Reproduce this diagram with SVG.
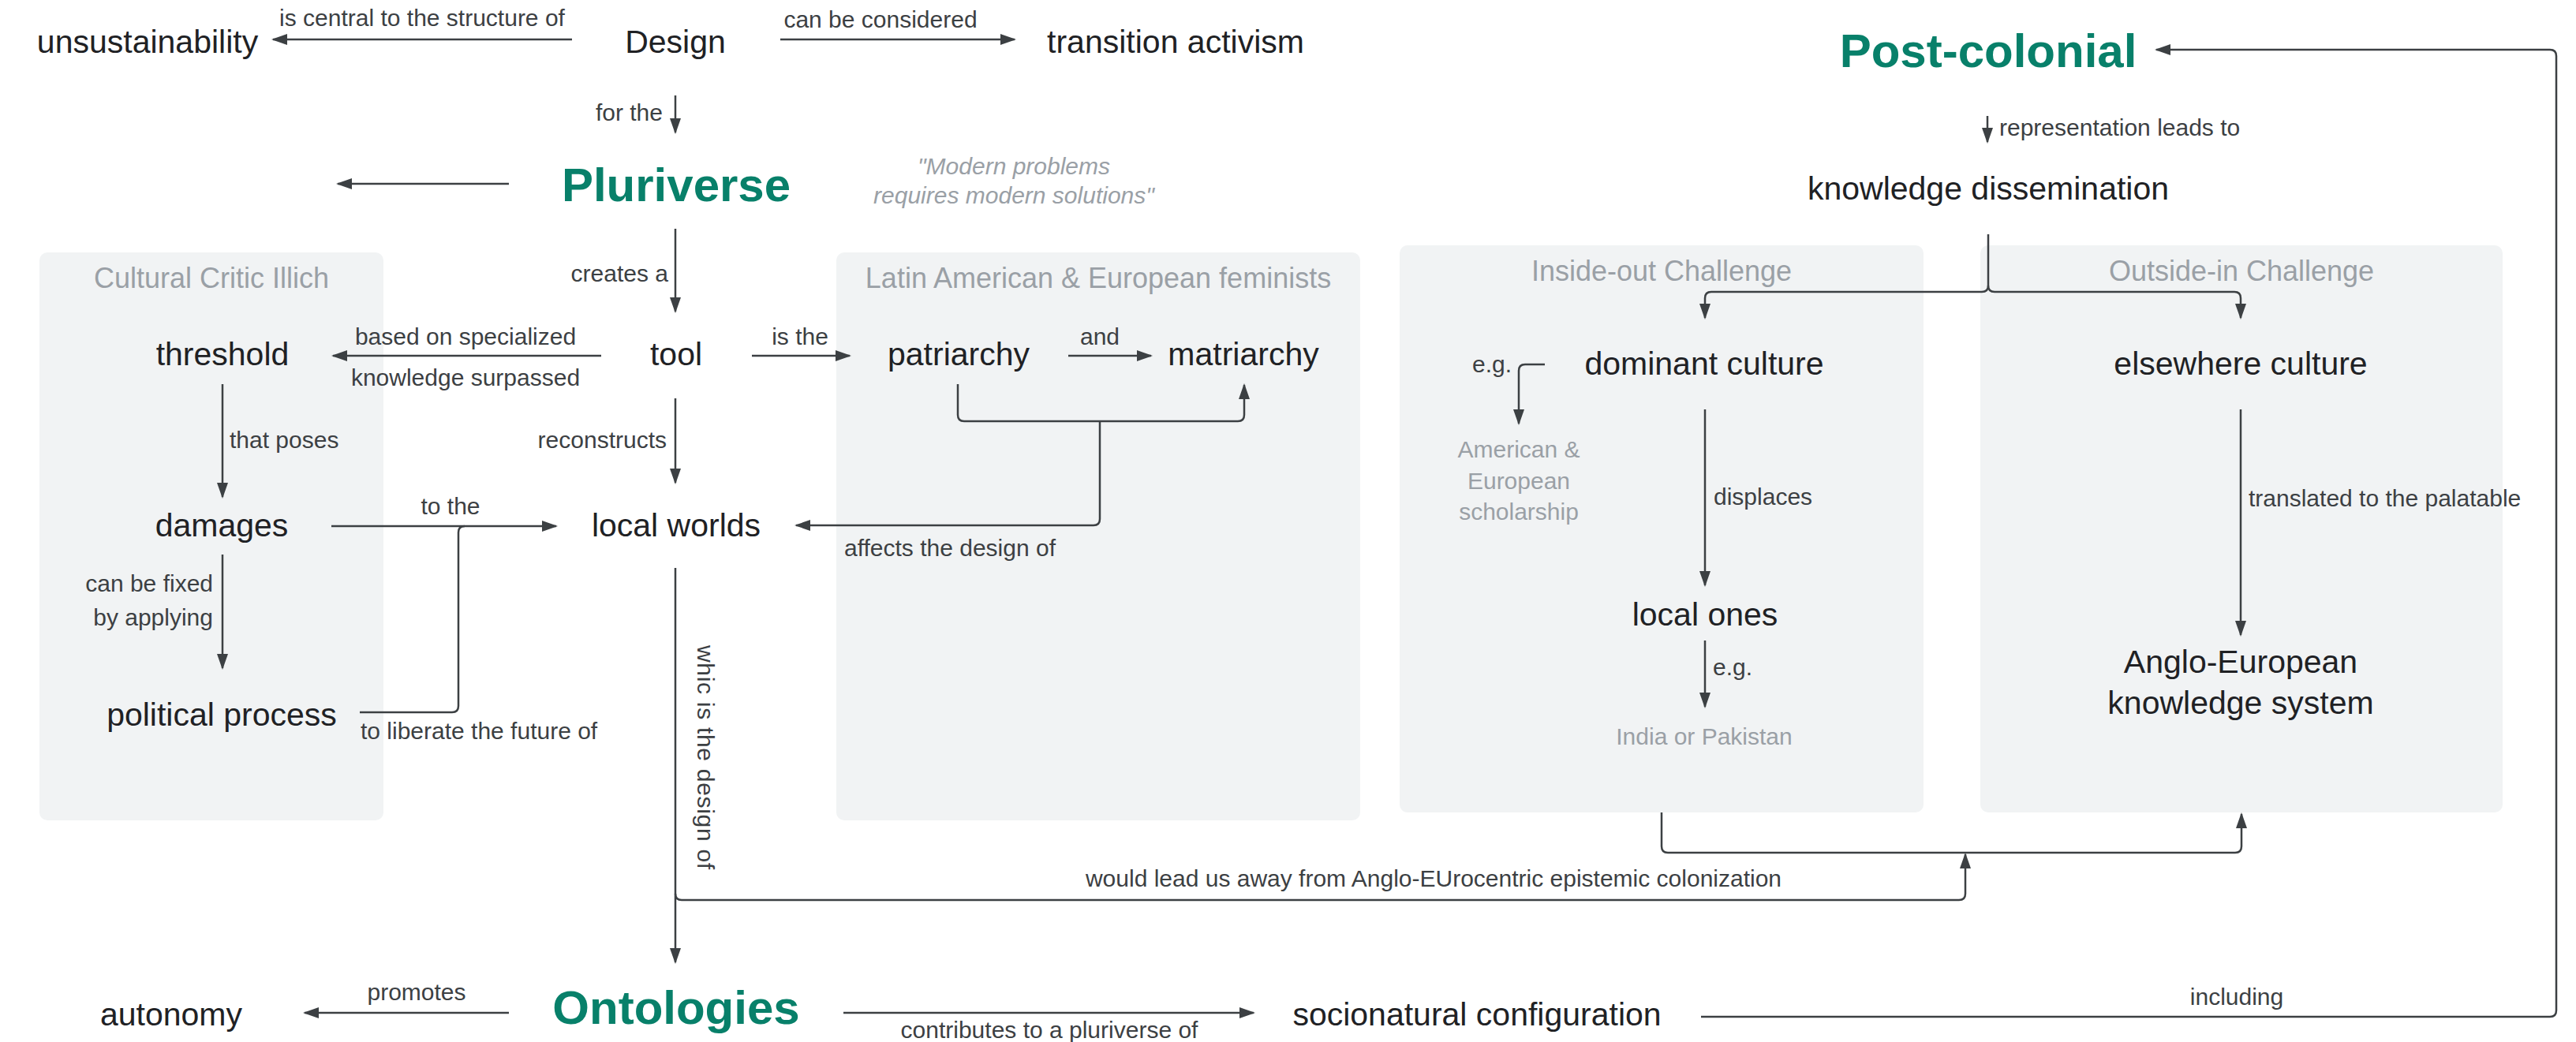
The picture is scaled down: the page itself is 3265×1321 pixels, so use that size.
<svg xmlns="http://www.w3.org/2000/svg" width="3265" height="1321" viewBox="0 0 3265 1321">
  <style>
    text { font-family: "Liberation Sans", Arial, sans-serif; }
    .node { font-size: 41px; fill: #202124; text-anchor: middle; }
    .key { font-size: 60px; font-weight: bold; fill: #08806a; text-anchor: middle; }
    .lbl { font-size: 30px; fill: #3c4043; }
    .mid { text-anchor: middle; }
    .end { text-anchor: end; }
    .muted { font-size: 30px; fill: #9aa0a6; text-anchor: middle; }
    .quote { font-size: 30px; fill: #9aa0a6; font-style: italic; text-anchor: middle; }
    .title { font-size: 36px; fill: #9aa0a6; text-anchor: middle; }
    .box { fill: #f1f3f4; }
    .edge { fill: none; stroke: #3c4043; stroke-width: 2.5; }
    .arrow { marker-end: url(#head); }
  </style>
  <defs>
    <marker id="head" markerUnits="userSpaceOnUse" markerWidth="20" markerHeight="14" refX="18" refY="7" orient="auto">
      <path d="M0,0 L20,7 L0,14 z" fill="#3c4043"/>
    </marker>
  </defs>

  <!-- group panels -->
  <g id="group-illich">
    <rect class="box" x="50" y="320" width="436" height="720" rx="10"/>
    <text class="title" x="268" y="365">Cultural Critic Illich</text>
  </g>
  <g id="group-feminists">
    <rect class="box" x="1060" y="320" width="664" height="720" rx="10"/>
    <text class="title" x="1392" y="365">Latin American &amp; European feminists</text>
  </g>
  <g id="group-inside-out">
    <rect class="box" x="1774" y="311" width="664" height="719" rx="10"/>
    <text class="title" x="2106" y="356">Inside-out Challenge</text>
  </g>
  <g id="group-outside-in">
    <rect class="box" x="2510" y="311" width="662" height="719" rx="10"/>
    <text class="title" x="2841" y="356">Outside-in Challenge</text>
  </g>

  <!-- connectors -->
  <g id="connectors">
    <path class="edge arrow" d="M725,50 H346"/>
    <path class="edge arrow" d="M989,50 H1286"/>
    <path class="edge arrow" d="M856,121 V168"/>
    <path class="edge arrow" d="M645,233 H428"/>
    <path class="edge arrow" d="M856,290 V395"/>
    <path class="edge arrow" d="M762,451 H422"/>
    <path class="edge arrow" d="M953,451 H1077"/>
    <path class="edge arrow" d="M1354,451 H1459"/>
    <path class="edge arrow" d="M856,505 V612"/>
    <path class="edge arrow" d="M282,487 V630"/>
    <path class="edge arrow" d="M420,667 H705"/>
    <path class="edge arrow" d="M282,703 V847"/>
    <path class="edge" d="M456,903 H573 Q581,903 581,895 V675 Q581,667 589,667"/>
    <path class="edge arrow" d="M1214,487 V526 Q1214,534 1222,534 H1569 Q1577,534 1577,526 V488"/>
    <path class="edge arrow" d="M1394,534 V658 Q1394,666 1386,666 H1009"/>
    <path class="edge arrow" d="M856,720 V1220"/>
    <path class="edge arrow" d="M856,1133 Q856,1141 864,1141 H2483 Q2491,1141 2491,1133 V1083"/>
    <path class="edge arrow" d="M2106,1030 V1073 Q2106,1081 2114,1081 H2833 Q2841,1081 2841,1073 V1032"/>
    <path class="edge arrow" d="M645,1284 H386"/>
    <path class="edge arrow" d="M1069,1284 H1589"/>
    <path class="edge arrow" d="M2156,1289 H3232 Q3240,1289 3240,1281 V71 Q3240,63 3232,63 H2733"/>
    <path class="edge arrow" d="M2519,147 V180"/>
    <path class="edge arrow" d="M2520,297 V362 Q2520,370 2512,370 H2169 Q2161,370 2161,378 V403"/>
    <path class="edge arrow" d="M2520,362 Q2520,370 2528,370 H2832 Q2840,370 2840,378 V403"/>
    <path class="edge arrow" d="M1958,462 H1933 Q1925,462 1925,470 V537"/>
    <path class="edge arrow" d="M2161,519 V742"/>
    <path class="edge arrow" d="M2161,812 V896"/>
    <path class="edge arrow" d="M2840,519 V805"/>

    <text class="lbl mid" x="535" y="33">is central to the structure of</text>
    <text class="lbl mid" x="1116" y="35">can be considered</text>
    <text class="lbl end" x="840" y="153">for the</text>
    <text class="lbl end" x="847" y="357">creates a</text>
    <text class="lbl mid" x="590" y="437">based on specialized</text>
    <text class="lbl mid" x="590" y="489">knowledge surpassed</text>
    <text class="lbl mid" x="1014" y="437">is the</text>
    <text class="lbl mid" x="1394" y="437">and</text>
    <text class="lbl end" x="845" y="568">reconstructs</text>
    <text class="lbl" x="291" y="568">that poses</text>
    <text class="lbl mid" x="571" y="652">to the</text>
    <text class="lbl" x="1070" y="705">affects the design of</text>
    <text class="lbl end" x="270" y="750">can be fixed</text>
    <text class="lbl end" x="270" y="793">by applying</text>
    <text class="lbl" x="457" y="937">to liberate the future of</text>
    <text class="lbl" x="884" y="818" transform="rotate(90 884 818)" letter-spacing="0.7">whic is the design of</text>
    <text class="lbl mid" x="1817" y="1124">would lead us away from Anglo-EUrocentric epistemic colonization</text>
    <text class="lbl mid" x="528" y="1268">promotes</text>
    <text class="lbl mid" x="1330" y="1316">contributes to a pluriverse of</text>
    <text class="lbl mid" x="2835" y="1274">including</text>
    <text class="lbl" x="2534" y="172">representation leads to</text>
    <text class="lbl" x="1866" y="472">e.g.</text>
    <text class="lbl" x="2172" y="640">displaces</text>
    <text class="lbl" x="2171" y="856">e.g.</text>
    <text class="lbl" x="2850" y="642">translated to the palatable</text>
  </g>

  <!-- nodes -->
  <g id="n-unsustainability"><text class="node" x="187" y="67">unsustainability</text></g>
  <g id="n-design"><text class="node" x="856" y="67">Design</text></g>
  <g id="n-transition"><text class="node" x="1490" y="67">transition activism</text></g>
  <g id="n-pluriverse"><text class="key" x="857" y="255">Pluriverse</text></g>
  <g id="n-quote">
    <text class="quote" x="1285" y="221">"Modern problems</text>
    <text class="quote" x="1285" y="258">requires modern solutions"</text>
  </g>
  <g id="n-threshold"><text class="node" x="282" y="463">threshold</text></g>
  <g id="n-tool"><text class="node" x="857" y="463">tool</text></g>
  <g id="n-patriarchy"><text class="node" x="1215" y="463">patriarchy</text></g>
  <g id="n-matriarchy"><text class="node" x="1576" y="463">matriarchy</text></g>
  <g id="n-damages"><text class="node" x="281" y="680">damages</text></g>
  <g id="n-local-worlds"><text class="node" x="857" y="680">local worlds</text></g>
  <g id="n-political-process"><text class="node" x="281" y="920">political process</text></g>
  <g id="n-ontologies"><text class="key" x="857" y="1298">Ontologies</text></g>
  <g id="n-autonomy"><text class="node" x="217" y="1300">autonomy</text></g>
  <g id="n-socionatural"><text class="node" x="1872" y="1300">socionatural configuration</text></g>
  <g id="n-post-colonial"><text class="key" x="2520" y="85">Post-colonial</text></g>
  <g id="n-knowledge-dissemination"><text class="node" x="2520" y="253">knowledge dissemination</text></g>
  <g id="n-dominant-culture"><text class="node" x="2160" y="475">dominant culture</text></g>
  <g id="n-elsewhere-culture"><text class="node" x="2840" y="475">elsewhere culture</text></g>
  <g id="n-scholarship">
    <text class="muted" x="1925" y="580">American &amp;</text>
    <text class="muted" x="1925" y="620">European</text>
    <text class="muted" x="1925" y="659">scholarship</text>
  </g>
  <g id="n-local-ones"><text class="node" x="2161" y="793">local ones</text></g>
  <g id="n-india"><text class="muted" x="2160" y="944">India or Pakistan</text></g>
  <g id="n-anglo-european">
    <text class="node" x="2840" y="853">Anglo-European</text>
    <text class="node" x="2840" y="905">knowledge system</text>
  </g>
</svg>
